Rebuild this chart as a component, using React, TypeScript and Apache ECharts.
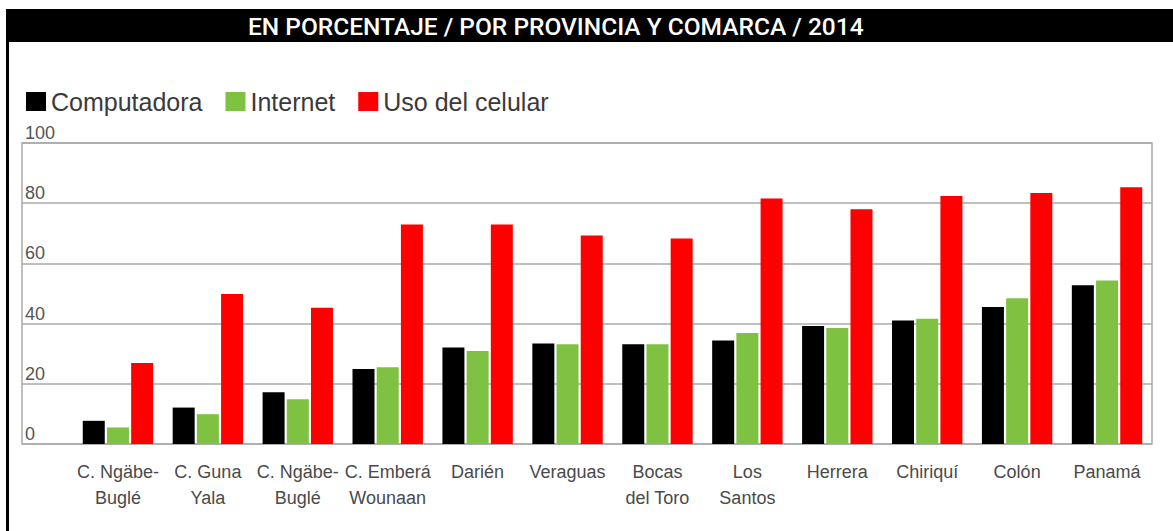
import React, { useEffect, useRef } from "react";
import * as echarts from "echarts";

const categories = [
  "C. Ngäbe-\nBuglé",
  "C. Guna\nYala",
  "C. Ngäbe-\nBuglé",
  "C. Emberá\nWounaan",
  "Darién",
  "Veraguas",
  "Bocas\ndel Toro",
  "Los\nSantos",
  "Herrera",
  "Chiriquí",
  "Colón",
  "Panamá",
];
const computadora = [7.7, 12.1, 17.2, 24.9, 32.1, 33.4, 33.1, 34.4, 39.2, 41.0, 45.5, 52.7];
const internet = [5.5, 9.9, 14.9, 25.5, 30.9, 33.1, 33.1, 36.9, 38.5, 41.6, 48.4, 54.3];
const celular = [26.9, 49.8, 45.3, 72.9, 72.9, 69.3, 68.3, 81.6, 78.0, 82.4, 83.4, 85.3];
const seriesNames = ["Computadora", "Internet", "Uso del celular"];
const title = "EN PORCENTAJE / POR PROVINCIA Y COMARCA / 2014";

export default function App() {
  const ref = useRef<HTMLDivElement>(null);
  useEffect(() => {
    if (!ref.current) return;
    const chart = echarts.init(ref.current, undefined, { renderer: "svg" });
    const barBase = {
      type: "bar",
      xAxisIndex: 1,
      yAxisIndex: 1,
      barWidth: 22,
      barGap: "10%",
    };
    chart.setOption({
      animation: false,
      backgroundColor: "#fff",
      graphic: [
        { type: "rect", shape: { x: 6, y: 9, width: 1167, height: 33 }, style: { fill: "#000" } },
        { type: "rect", shape: { x: 6, y: 42, width: 3, height: 489 }, style: { fill: "#000" } },
        {
          type: "text",
          x: 248,
          y: 26,
          style: {
            text: title,
            fill: "#fff",
            font: "500 24.5px Roboto",
            textVerticalAlign: "middle",
          },
        },
      ],
      legend: {
        left: 21,
        top: 84,
        itemWidth: 20,
        itemHeight: 19,
        itemGap: 23,
        icon: "rect",
        data: seriesNames,
        textStyle: { fontSize: 25, color: "#3a3a3a", fontFamily: "Liberation Sans" },
      },
      grid: [
        { left: 22, right: 21, top: 143, bottom: 87, show: true, borderColor: "#aaa", borderWidth: 1.5, backgroundColor: "transparent" },
        { left: 73, right: 21, top: 143, bottom: 87 },
      ],
      xAxis: [
        { gridIndex: 0, type: "value", min: 0, max: 1, show: false },
        {
          gridIndex: 1,
          type: "category",
          data: categories,
          axisLine: { show: false },
          axisTick: { show: false },
          axisLabel: {
            interval: 0,
            hideOverlap: false,
            margin: 15,
            fontSize: 18,
            lineHeight: 26,
            color: "#4a4a4a",
            fontFamily: "Liberation Sans",
          },
        },
      ],
      yAxis: [
        {
          gridIndex: 0,
          type: "value",
          min: 0,
          max: 100,
          interval: 20,
          axisLine: { show: false },
          axisTick: { show: false },
          splitLine: { lineStyle: { color: "#aaa", width: 1.5 } },
          axisLabel: {
            inside: true,
            margin: 3,
            verticalAlign: "bottom",
            padding: [0, 0, 1, 0],
            fontSize: 18,
            color: "#555",
            fontFamily: "Liberation Sans",
          },
        },
        { gridIndex: 1, type: "value", min: 0, max: 100, show: false },
      ],
      series: [
        { ...barBase, name: seriesNames[0], data: computadora, itemStyle: { color: "#000" } },
        { ...barBase, name: seriesNames[1], data: internet, itemStyle: { color: "#7fc241" } },
        { ...barBase, name: seriesNames[2], data: celular, itemStyle: { color: "#ff0000" } },
      ],
    });
    return () => chart.dispose();
  }, []);
  return (
    <div
      ref={ref}
      style={{ position: "fixed", left: 0, top: 0, width: 1173, height: 531 }}
    />
  );
}
